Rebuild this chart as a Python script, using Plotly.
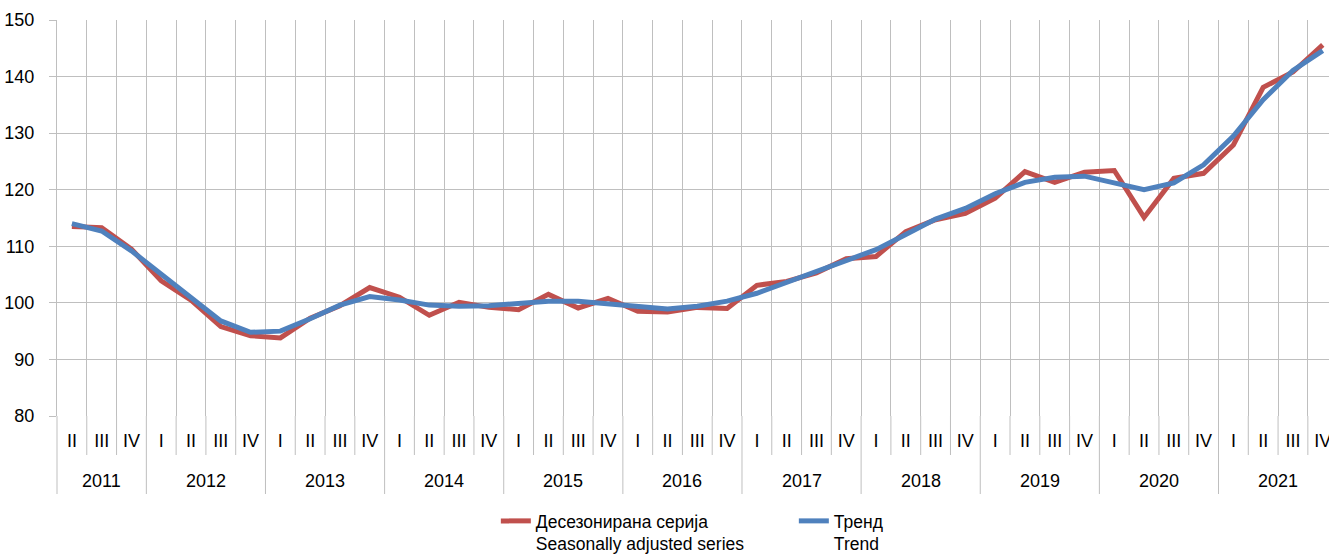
import plotly.graph_objects as go

years = ["2011"] * 3 + [str(y) for y in range(2012, 2022) for _ in range(4)]
quarters = ["II", "III", "IV"] + ["I", "II", "III", "IV"] * 10
categories = [f"{y} {q}" for y, q in zip(years, quarters)]

seasonally_adjusted = [
    113.5, 113.3, 109.5,
    103.9, 100.5, 95.8, 94.2,
    93.8, 97.3, 99.5, 102.7,
    101.0, 97.8, 100.1, 99.2,
    98.8, 101.5, 99.1, 100.8,
    98.5, 98.4, 99.2, 99.0,
    103.1, 103.8, 105.3, 107.8,
    108.2, 112.6, 114.7, 115.8,
    118.5, 123.2, 121.3, 123.1,
    123.4, 115.1, 122.0, 122.9,
    127.9, 138.1, 140.8, 145.6,
]
trend = [
    114.0, 112.7, 109.2,
    105.0, 100.8, 96.8, 94.8,
    95.0, 97.2, 99.6, 101.1,
    100.5, 99.6, 99.4, 99.5,
    99.8, 100.3, 100.3, 99.9,
    99.3, 98.9, 99.4, 100.3,
    101.7, 103.6, 105.5, 107.4,
    109.4, 112.1, 114.8, 116.7,
    119.3, 121.3, 122.2, 122.4,
    121.1, 120.0, 121.2, 124.4,
    129.5, 135.9, 141.1, 144.6,
]

series_names = [
    "Десезонирана серија<br>Seasonally adjusted series",
    "Тренд<br>Trend",
]
colors = ["#C0504D", "#4F81BD"]
grid_color = "#BFBFBF"

font_family = "Liberation Sans, Arial, sans-serif"

fig = go.Figure()
fig.add_trace(go.Scatter(
    x=categories, y=seasonally_adjusted, mode="lines",
    name=series_names[0], line=dict(color=colors[0], width=5),
))
fig.add_trace(go.Scatter(
    x=categories, y=trend, mode="lines",
    name=series_names[1], line=dict(color=colors[1], width=5),
))

# plot-area geometry (px) used to place the two-row category axis
plot_h = 556 - 20 - 140
quarter_sep_len = 39 / plot_h
year_sep_len = 78 / plot_h
year_label_y = -64.5 / plot_h

shapes = []
annotations = []
n = len(categories)
for k in range(1, n):
    new_year = years[k] != years[k - 1]
    shapes.append(dict(
        type="line", xref="x", yref="paper",
        x0=k - 0.5, x1=k - 0.5, y0=0,
        y1=-(year_sep_len if new_year else quarter_sep_len),
        line=dict(color=grid_color, width=1),
    ))
# left edge divider
shapes.append(dict(
    type="line", xref="paper", yref="paper", x0=0, x1=0, y0=0, y1=-year_sep_len,
    line=dict(color=grid_color, width=1),
))

for yr in dict.fromkeys(years):
    idx = [i for i, y in enumerate(years) if y == yr]
    annotations.append(dict(
        text=yr, xref="x", yref="paper",
        x=sum(idx) / len(idx), y=year_label_y,
        xanchor="center", yanchor="middle", showarrow=False,
        font=dict(size=18),
    ))

fig.update_layout(
    width=1329, height=556,
    margin=dict(l=57, r=0, t=20, b=140, autoexpand=False),
    paper_bgcolor="white", plot_bgcolor="white",
    font=dict(family=font_family, size=18, color="black"),
    showlegend=True,
    legend=dict(
        orientation="h", x=0.345, xanchor="left",
        yref="container", y=1 - 503 / 556, yanchor="top",
        valign="top", font=dict(size=17.5), entrywidth=253,
        tracegroupgap=0, bgcolor="rgba(0,0,0,0)",
    ),
    shapes=shapes,
    annotations=annotations,
    xaxis=dict(
        type="category",
        categoryorder="array", categoryarray=categories,
        tickmode="array", tickvals=categories, ticktext=quarters,
        range=[-0.5, n - 0.79],
        tickson="boundaries",
        showgrid=True, gridcolor=grid_color, gridwidth=1,
        ticks="", ticklabelstandoff=12, ticklabeloverflow="allow",
        showline=False, zeroline=False,
        tickfont=dict(size=18),
    ),
    yaxis=dict(
        range=[80, 150], dtick=10,
        showgrid=True, gridcolor=grid_color, gridwidth=1,
        ticks="outside", ticklen=7, tickcolor=grid_color,
        showline=True, linecolor=grid_color, linewidth=1,
        zeroline=False, ticklabelstandoff=11,
        tickfont=dict(size=18),
    ),
)

fig.write_html(
    "out.html",
    config={"displayModeBar": False},
    post_script="document.body.style.margin='0px';document.body.style.overflow='hidden';",
)
